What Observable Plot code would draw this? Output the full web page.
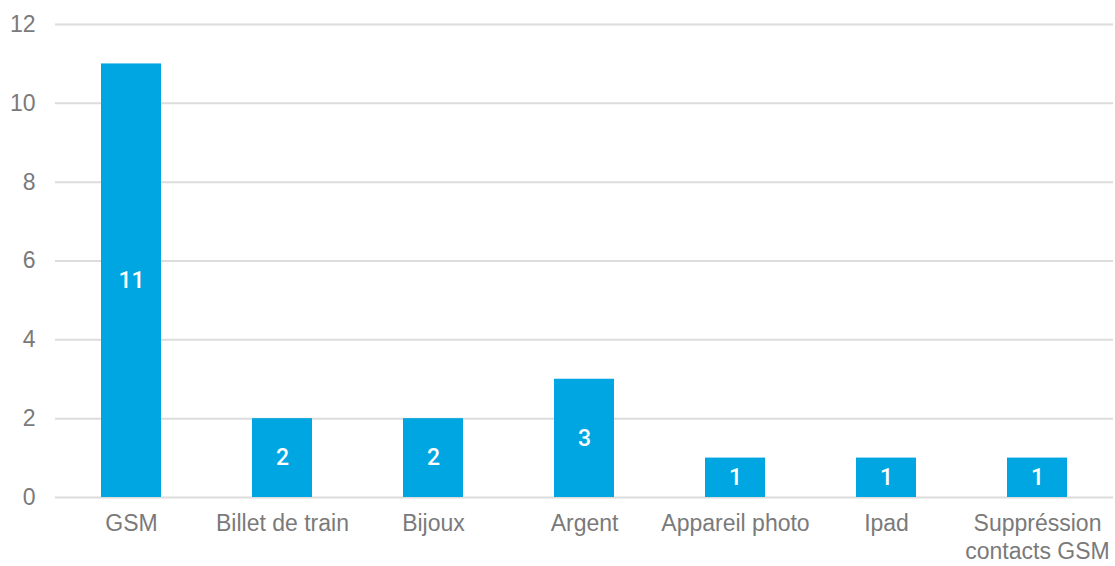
<!DOCTYPE html>
<html>
<head>
<meta charset="utf-8">
<script src="https://cdn.jsdelivr.net/npm/d3@7"></script>
<script src="https://cdn.jsdelivr.net/npm/@observablehq/plot@0.6"></script>
<style>
  html, body { margin: 0; padding: 0; background: #fff; }
</style>
</head>
<body>
<div id="chart"></div>
<script>
const categories = ["GSM", "Billet de train", "Bijoux", "Argent", "Appareil photo", "Ipad", "Suppréssion contacts GSM"];
const values = [11, 2, 2, 3, 1, 1, 1];
const yTicks = [0, 2, 4, 6, 8, 10, 12];

const data = categories.map((c, i) => ({category: c, value: values[i]}));
const font = "'Liberation Sans', Arial, sans-serif";

const chart = Plot.plot({
  width: 1115,
  height: 566,
  marginLeft: 55,
  marginRight: 2,
  marginTop: 24,
  marginBottom: 69,
  style: {fontFamily: font, fontSize: "23px", color: "#7a7a7a", background: "#fff"},
  x: {domain: categories, paddingInner: 0.6, paddingOuter: 0.3, label: null},
  y: {domain: [0, 12], label: null},
  marks: [
    Plot.gridY(yTicks, {stroke: "#dcdcdc", strokeOpacity: 1, strokeWidth: 2}),
    Plot.axisY(yTicks, {tickSize: 0, tickPadding: 20, fontSize: 23, fill: "#7a7a7a", label: null}),
    Plot.axisX({
      tickSize: 0, tickPadding: 14, fontSize: 23, fill: "#7a7a7a", label: null, lineHeight: 1.22,
      tickFormat: d => d === "Suppréssion contacts GSM" ? "Suppréssion\ncontacts GSM" : d
    }),
    Plot.barY(data, {x: "category", y: "value", fill: "#00a6e2"}),
    Plot.text(data, {x: "category", y: d => d.value / 2, text: d => String(d.value), fill: "white", fontSize: 23, fontFamily: "Roboto, 'Liberation Sans', sans-serif", fontWeight: 500})
  ]
});
document.getElementById("chart").appendChild(chart);
</script>
</body>
</html>
